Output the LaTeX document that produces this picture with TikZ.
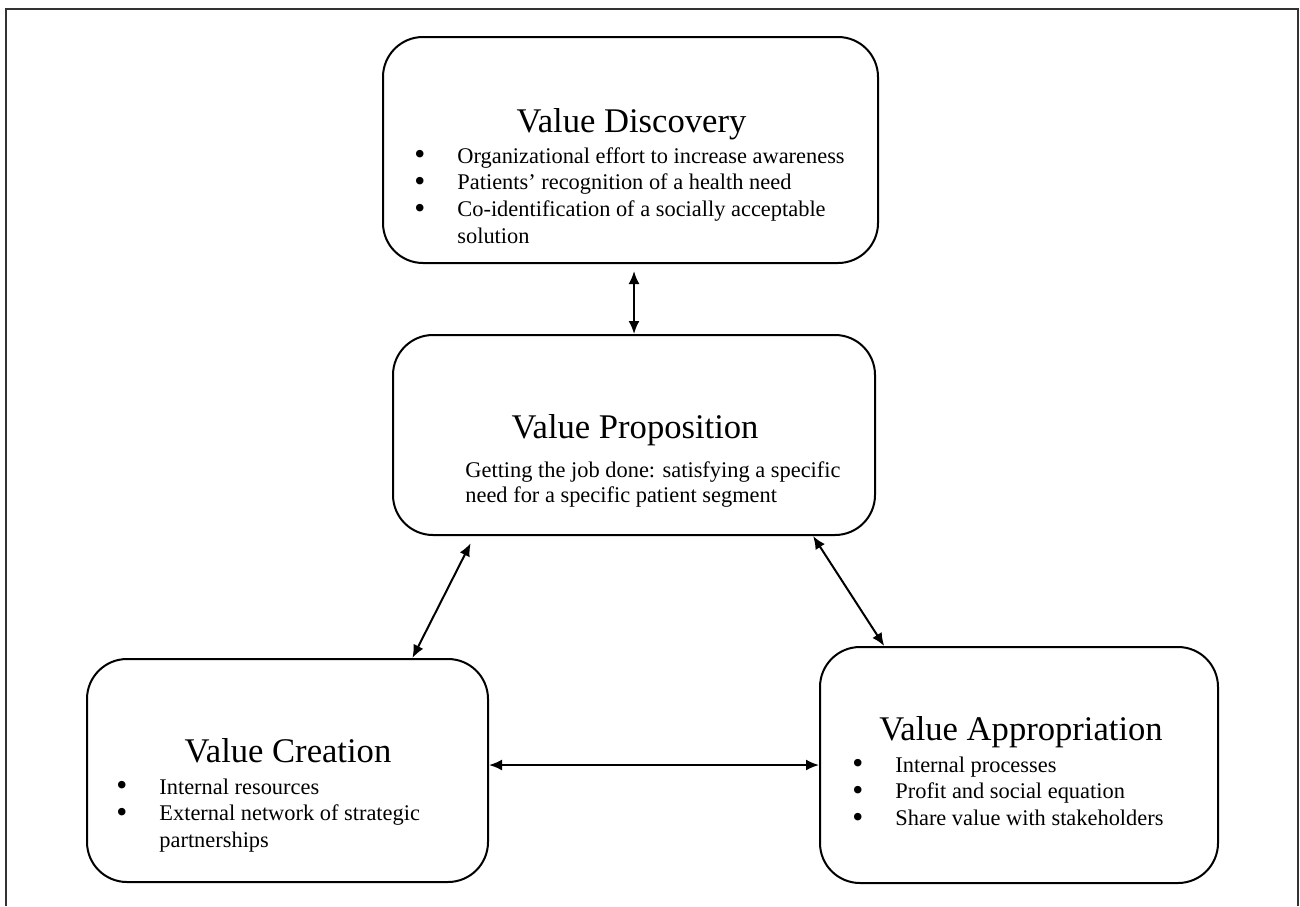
\documentclass[tikz,border=0pt]{standalone}
\usepackage{fontspec}
\usepackage{graphicx}
\setmainfont{Liberation Serif}
\usetikzlibrary{arrows.meta,calc}
\newcommand{\vbul}{\makebox[21.5pt][l]{\raisebox{-0.7pt}{\scalebox{1.4}{\textbullet}}}}

\begin{document}
\begin{tikzpicture}[x=0.5pt,y=-0.5pt,
	box/.style={draw, line width=1pt, rounded corners=20pt, inner sep=0pt},
	ttl/.style={anchor=base, inner sep=0pt, font=\fontsize{17.3}{20}\selectfont},
	body/.style={anchor=base west, inner sep=0pt, font=\fontsize{11.2}{13.4}\selectfont},
	arr/.style={{Latex[length=6.5pt,width=5.5pt]}-{Latex[length=6.5pt,width=5.5pt]}, line width=1pt}]
				\useasboundingbox (0,0) rectangle (1300,906);
				\draw[line width=1pt, black!80] (6,906) -- (6,9) -- (1298,9) -- (1298,906);
				% the four boxes
				\node[box, minimum width=247.5pt, minimum height=113pt] (disc) at (630.5,150) {};
				\node[box, minimum width=241pt, minimum height=100pt] (prop) at (634,435) {};
				\node[box, minimum width=200.5pt, minimum height=111.5pt] (cre) at (287.5,770.5) {};
				\node[box, minimum width=199pt, minimum height=118pt] (app) at (1019,765) {};
				% texts
				\node[ttl] (disct) at (631.5,132) {Value Discovery};
				\node[body] (discl) at (414,163) {\begin{tabular}[t]{@{}l@{}}\vbul Organizational effort to increase awareness\\ \vbul Patients’ recognition of a health need\\ \vbul Co-identification of a socially acceptable\\ \hspace{21.5pt}solution\end{tabular}};
				\node[ttl] (propt) at (635,438) {Value Proposition};
				\node[body, font=\fontsize{11.2}{12.5}\selectfont] (propl) at (465,477) {\begin{tabular}[t]{@{}l@{}}Getting the job done: satisfying a specific\\ need for a specific patient segment\end{tabular}};
				\node[ttl] (cret) at (288,762) {Value Creation};
				\node[body] (crel) at (116,794) {\begin{tabular}[t]{@{}l@{}}\vbul Internal resources\\ \vbul External network of strategic\\ \hspace{21.5pt}partnerships\end{tabular}};
				\node[ttl] (appt) at (1021,740) {Value Appropriation};
				\node[body] (appl) at (852,772) {\begin{tabular}[t]{@{}l@{}}\vbul Internal processes\\ \vbul Profit and social equation\\ \vbul Share value with stakeholders\end{tabular}};
				% arrows
				\draw[arr, shorten <=3.5pt] (prop.north |- disc.south) -- (prop.north);
				\draw[arr, shorten >=4pt] ($(cre.north west)!0.81!(cre.north east)$) -- ($(prop.south west)!0.17!(prop.south east)$);
				\draw[arr] ($(prop.south west)!0.87!(prop.south east)$) -- ($(app.north west)!0.163!(app.north east)$);
				\draw[arr] (cre.east |- app.west) -- (app.west);
			\end{tikzpicture}
\end{document}
